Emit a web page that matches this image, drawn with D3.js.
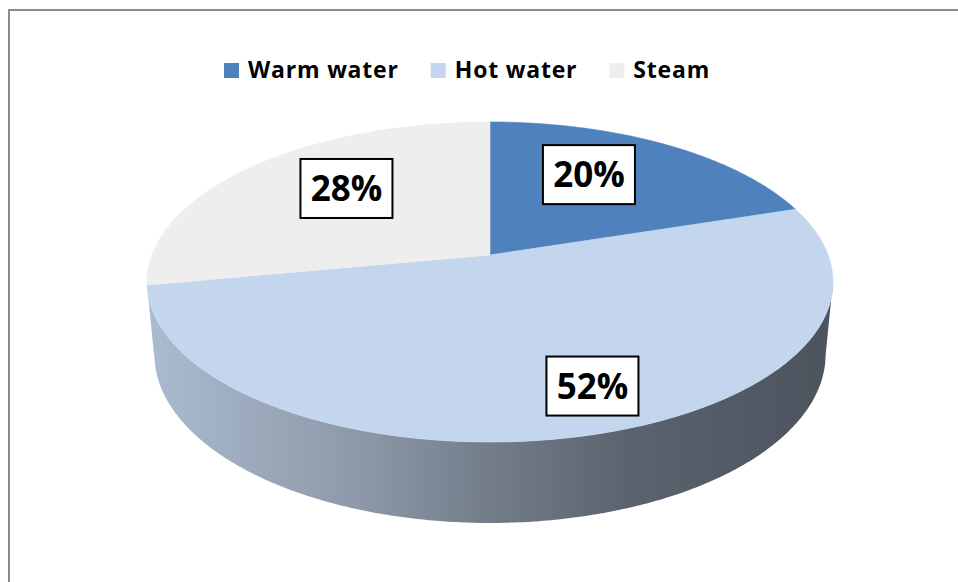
<!DOCTYPE html>
<html>
<head>
<meta charset="utf-8">
<script src="https://cdn.jsdelivr.net/npm/d3@7"></script>
<style>
  html, body { margin: 0; padding: 0; background: #ffffff; }
  svg { display: block; }
</style>
</head>
<body>
<svg id="chart" width="958" height="582"></svg>
<script>
// Heat carrier shares
const categories = ["Warm water", "Hot water", "Steam"];
const shares = [20, 52, 28];
const sliceColors = ["#4f81bd", "#c3d6ed", "#eeeeee"];
const valueLabels = ["20%", "52%", "28%"];

const svg = d3.select("#chart");
const W = 958, H = 582;

// Chart frame (only top and left edges fall inside the view)
svg.append("rect")
  .attr("x", 9).attr("y", 10)
  .attr("width", W + 40).attr("height", H + 40)
  .attr("fill", "#ffffff")
  .attr("stroke", "#8a8a8a")
  .attr("stroke-width", 2);

// ---- 3D pie projection -------------------------------------------------
const cam = {
  cx: 490, cy: 255,       // screen position of the pie centre
  f: 1778, D: 5.26,       // focal length and camera distance (unit radius)
  tilt: Math.asin(0.46),  // elevation of the viewer
  depth: 0.243            // thickness of the disc
};
const sinT = Math.sin(cam.tilt), cosT = Math.cos(cam.tilt);

// theta: clockwise angle from the far side (radians); r: radius fraction;
// z: 0 for top face, 1 for bottom face
function project(theta, r, z) {
  const u = r * Math.sin(theta);
  const v = -r * Math.cos(theta);
  const Y = v * sinT + z * cam.depth * cosT;
  const Z = cam.D - v * cosT + z * cam.depth * sinT;
  return [cam.cx + cam.f * u / Z, cam.cy + cam.f * Y / Z];
}

const pie = d3.pie().sort(null).value(d => d)(shares);
const line = d3.line();

function arcPoints(a0, a1, r, z) {
  const n = Math.max(2, Math.ceil(Math.abs(a1 - a0) / 0.01));
  return d3.range(n + 1).map(i => project(a0 + (a1 - a0) * i / n, r, z));
}

// Silhouette of the visible side wall: tangent lines from the viewer
const vt = cosT / cam.D;
const silA = Math.acos(-vt);
const silB = 2 * Math.PI - silA;

const defs = svg.append("defs");
const leftX = project(silB, 1, 0)[0], rightX = project(silA, 1, 0)[0];
const grad = defs.append("linearGradient")
  .attr("id", "sideShade")
  .attr("gradientUnits", "userSpaceOnUse")
  .attr("x1", leftX).attr("x2", rightX).attr("y1", 0).attr("y2", 0);
[[0, "#abbbd0"], [0.3, "#8e9aaa"], [0.5, "#737d8a"], [0.7, "#5b636e"], [1, "#4c535d"]]
  .forEach(([o, c]) => grad.append("stop").attr("offset", o).attr("stop-color", c));

const g = svg.append("g");

// Side wall of each slice, clipped to the visible front band
pie.forEach((s, i) => {
  const a0 = Math.max(s.startAngle, silA);
  const a1 = Math.min(s.endAngle, silB);
  if (a1 <= a0) return;
  const pts = arcPoints(a0, a1, 1, 0).concat(arcPoints(a1, a0, 1, 1));
  g.append("path")
    .attr("d", line(pts) + "Z")
    .attr("fill", "url(#sideShade)");
});

// Top faces
pie.forEach((s, i) => {
  const pts = [project(0, 0, 0)].concat(arcPoints(s.startAngle, s.endAngle, 1, 0));
  g.append("path")
    .attr("d", line(pts) + "Z")
    .attr("fill", sliceColors[i])
    .attr("stroke", sliceColors[i])
    .attr("stroke-width", 0.6);
});

// ---- Data labels -------------------------------------------------------
// Each label sits inside its slice on the mid-angle ray, then is moved a
// little so the boxes stay clear of the slice boundaries.
const labelFont = "'Open Sans', 'DejaVu Sans', sans-serif";
const labelNudge = [[-28, 0], [36, 12], [26, -2]];
pie.forEach((s, i) => {
  const mid = (s.startAngle + s.endAngle) / 2;
  const [px, py] = project(mid, 0.7, 0);
  const lx = px + labelNudge[i][0], ly = py + labelNudge[i][1];
  const lg = svg.append("g").attr("transform", `translate(${lx},${ly})`);
  lg.append("rect")
    .attr("x", -46).attr("y", -29.5)
    .attr("width", 92).attr("height", 59)
    .attr("fill", "#ffffff")
    .attr("stroke", "#000000")
    .attr("stroke-width", 2);
  lg.append("text")
    .attr("text-anchor", "middle")
    .attr("dy", "0.36em")
    .attr("font-family", labelFont)
    .attr("font-weight", 700)
    .attr("font-size", 35)
    .attr("fill", "#000000")
    .text(valueLabels[i]);
});

// ---- Legend ------------------------------------------------------------
const legend = svg.append("g").attr("transform", "translate(224,70)");
let xPos = 0;
categories.forEach((c, i) => {
  const item = legend.append("g").attr("transform", `translate(${xPos},0)`);
  item.append("rect")
    .attr("x", 0).attr("y", -7)
    .attr("width", 15).attr("height", 15)
    .attr("fill", sliceColors[i]);
  const txt = item.append("text")
    .attr("x", 24).attr("y", 0)
    .attr("dy", "0.36em")
    .attr("font-family", labelFont)
    .attr("font-weight", 700)
    .attr("font-size", 23)
    .attr("letter-spacing", 0.8)
    .attr("fill", "#000000")
    .text(c);
  const w = txt.node().getComputedTextLength();
  xPos += 24 + w + 32;
});
</script>
</body>
</html>
